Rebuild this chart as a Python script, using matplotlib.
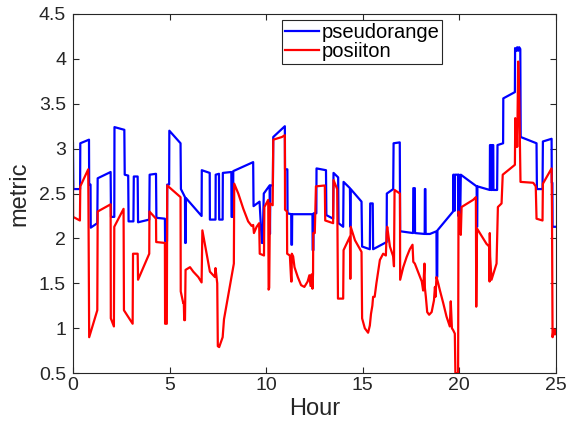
import matplotlib
matplotlib.use('Agg')
import matplotlib.pyplot as plt
from matplotlib.ticker import FormatStrFormatter

# (hour, metric) pairs
pseudorange = [
    (0.00,3.06),(0.02,2.55),(0.37,2.55),(0.38,3.06),(0.83,3.10),(0.84,2.60),(0.91,2.60),(0.92,2.12),
    (1.26,2.17),(1.28,2.67),(1.95,2.74),(1.97,2.24),(2.14,2.24),(2.15,3.24),(2.66,3.21),(2.68,2.71),
    (2.86,2.70),(2.88,2.19),(3.13,2.19),(3.15,2.69),(3.35,2.69),(3.37,2.18),
    (3.95,2.21),(3.97,2.71),(4.30,2.72),(4.32,2.23),(4.76,2.22),(4.77,1.97),(4.87,1.97),(4.88,2.60),
    (4.98,2.60),(4.99,3.20),(5.57,3.06),(5.59,2.55),(5.80,2.46),(5.81,1.95),(5.84,1.95),(5.85,2.45),
    (6.66,2.25),(6.67,2.76),(7.08,2.73),(7.09,2.21),
    (7.38,2.21),(7.39,2.71),(7.56,2.72),(7.57,2.21),(7.75,2.21),(7.76,2.73),(8.20,2.74),(8.21,2.24),
    (8.29,2.24),(8.30,2.75),(9.33,2.85),(9.35,2.36),(9.66,2.41),(9.78,1.95),(9.82,1.95),(9.88,2.50),
    (10.18,2.59),(10.20,2.05),(10.22,2.59),(10.35,2.59),(10.37,3.13),(10.97,3.25),(10.98,2.77),
    (11.10,2.77),(11.11,2.28),
    (11.30,2.27),(11.31,1.93),(11.34,1.93),(11.35,2.27),(12.40,2.27),(12.41,1.87),(12.45,1.87),
    (12.46,2.28),(12.60,2.28),(12.61,2.78),(13.10,2.76),(13.12,2.26),(13.47,2.22),(13.49,2.73),
    (13.73,2.68),(13.75,2.17),(13.99,2.13),(14.01,2.63),(14.34,2.56),(14.36,2.13),(14.38,2.55),
    (14.94,2.41),(14.97,1.91),(15.37,1.88),(15.39,2.39),(15.52,2.39),(15.54,1.88),(16.24,1.96),
    (16.25,2.50),(16.58,2.55),(16.60,3.06),(16.92,3.07),(16.94,2.08),(17.61,2.06),(17.62,2.56),
    (17.70,2.56),(17.71,2.06),(18.21,2.05),(18.22,2.55),(18.25,2.55),(18.26,2.05),(18.48,2.05),
    (18.82,2.08),(18.83,1.57),(18.86,1.57),(18.87,2.09),
    (19.68,2.30),(19.69,2.71),(19.72,2.71),(19.73,2.31),(19.77,2.31),(19.78,2.71),(19.94,2.71),
    (19.95,2.25),(19.98,2.71),(20.05,2.25),(20.08,2.71),(20.90,2.58),(20.91,2.13),(20.93,2.13),
    (20.94,2.58),(21.58,2.54),(21.59,3.04),(21.64,3.04),(21.65,2.54),(21.70,2.54),(21.71,3.04),
    (21.76,3.04),(21.77,2.54),(21.96,2.54),(21.98,3.04),(22.27,3.06),(22.28,3.56),(22.88,3.63),
    (22.89,4.12),(22.95,4.09),(23.00,4.13),(23.05,4.09),(23.10,4.13),(23.16,4.11),(23.18,3.13),
    (24.00,3.06),(24.02,2.55),(24.31,2.55),(24.33,3.08),(24.78,3.11),(24.79,2.62),(24.82,2.62),
    (24.83,2.13),(25.00,2.13),
]

posiiton = [
    (0.00,2.63),(0.01,2.24),(0.36,2.20),(0.38,2.58),(0.79,2.77),(0.80,2.45),(0.84,0.90),(1.26,1.20),
    (1.28,2.30),(1.95,2.38),(1.96,1.11),(2.12,1.02),(2.14,2.13),(2.62,2.33),(2.64,1.20),(3.09,1.05),
    (3.11,1.83),(3.35,1.83),(3.37,1.54),(3.95,1.83),(3.96,2.30),(4.30,2.22),(4.31,1.96),(4.76,1.95),
    (4.77,1.05),(4.86,1.05),(4.88,2.59),(5.57,2.46),(5.58,1.41),(5.71,1.28),(5.74,1.28),(5.76,1.09),
    (5.80,1.09),(5.83,1.65),(6.06,1.68),(6.23,1.63),(6.49,1.57),(6.66,1.51),(6.70,2.09),(7.09,1.63),
    (7.35,1.57),(7.38,1.67),(7.47,1.50),(7.50,0.80),(7.57,0.79),(7.75,0.90),(7.82,1.10),(8.33,1.72),
    (8.35,2.61),(8.56,2.50),(8.82,2.33),(9.07,2.19),(9.25,2.14),(9.33,2.15),(9.37,2.06),(9.51,2.13),
    (9.64,2.17),(9.67,1.83),(9.89,1.81),(9.91,2.35),(10.11,2.43),(10.13,1.43),(10.16,1.45),
    (10.20,2.39),(10.34,2.37),(10.37,3.10),(10.82,3.13),(10.97,3.15),(10.98,2.32),(11.08,2.30),
    (11.09,1.83),(11.23,1.81),(11.30,1.52),(11.32,1.52),(11.33,1.83),(11.40,1.80),(11.47,1.68),
    (11.64,1.57),(11.81,1.48),(11.98,1.46),(12.15,1.52),(12.24,1.59),(12.30,1.47),(12.36,1.60),
    (12.40,1.44),(12.43,1.61),(12.44,2.06),(12.52,2.06),(12.58,2.58),(13.04,2.59),(13.06,2.20),
    (13.47,2.17),(13.49,2.65),(13.68,2.55),(13.72,1.33),(13.99,1.33),(14.01,1.87),(14.34,2.02),
    (14.36,1.55),(14.38,2.13),(14.60,1.98),(14.94,1.85),(14.97,1.11),(15.11,1.00),(15.28,0.95),
    (15.37,1.03),(15.43,1.16),(15.50,1.25),(15.54,1.35),(15.62,1.35),(15.71,1.50),(15.89,1.76),
    (16.06,1.83),(16.20,1.81),(16.24,2.06),(16.27,2.13),(16.41,1.91),(16.58,1.80),(16.62,1.69),
    (16.65,2.54),(16.93,2.50),(16.94,1.54),(17.10,1.68),(17.27,1.79),(17.44,1.88),(17.58,1.93),
    (17.62,1.74),(17.70,1.72),(18.06,1.52),
    (18.13,1.42),(18.20,1.72),(18.22,1.45),(18.27,1.35),(18.34,1.18),(18.44,1.15),(18.57,1.18),
    (18.69,1.31),(18.74,1.46),(18.77,1.35),(18.82,1.57),(18.91,1.50),(19.00,1.42),(19.17,1.28),
    (19.34,1.13),(19.51,1.02),(19.56,1.30),(19.62,1.00),(19.68,0.98),(19.77,0.94),(19.80,0.50),
    (19.94,0.50),(19.96,2.30),(20.03,2.24),(20.08,2.04),(20.12,2.35),(20.72,2.43),(20.86,2.46),
    (20.88,1.24),(20.92,2.11),(21.41,1.94),(21.55,1.91),(21.57,1.52),(21.58,2.06),(21.60,1.80),
    (21.67,1.54),(21.93,1.72),(22.00,2.35),(22.19,2.39),(22.25,2.71),(22.88,2.82),(22.90,3.34),
    (22.93,3.02),(22.97,3.24),(23.00,3.02),(23.05,3.97),(23.10,3.65),(23.17,2.63),(23.83,2.62),
    (23.96,2.58),(24.00,2.22),(24.31,2.20),(24.33,2.61),(24.78,2.78),(24.80,2.32),(24.83,0.90),
    (24.88,0.99),(24.95,0.93),(25.00,0.98),
]

x_ticks = [0, 5, 10, 15, 20, 25]
y_ticks = [0.5, 1, 1.5, 2, 2.5, 3, 3.5, 4, 4.5]

plt.rcParams['font.family'] = ['Liberation Sans', 'DejaVu Sans']
dark = '#262626'

fig = plt.figure(figsize=(5.79, 4.24), dpi=100)
ax = fig.add_axes([0.126, 0.120, 0.834, 0.847])

h1, v1 = zip(*pseudorange)
h2, v2 = zip(*posiiton)
ax.plot(h1, v1, color='#0000ff', linewidth=1.6, label='pseudorange')
ax.plot(h2, v2, color='#ff0000', linewidth=1.6, label='posiiton')

ax.set_xlim(0, 25)
ax.set_ylim(0.5, 4.5)
ax.set_xticks(x_ticks)
ax.set_yticks(y_ticks)
ax.yaxis.set_major_formatter(FormatStrFormatter('%g'))
ax.tick_params(direction='in', top=True, right=True, length=4, width=0.8,
               labelsize=14, colors=dark)
ax.tick_params(axis='x', pad=3)
ax.tick_params(axis='y', pad=5)
for s in ax.spines.values():
    s.set_color(dark)
    s.set_linewidth(0.8)

ax.set_xlabel('Hour', fontsize=17, color=dark, labelpad=3)
ax.set_ylabel('metric', fontsize=17, color=dark, labelpad=6)

leg = ax.legend(loc='upper left', bbox_to_anchor=(0.433, 0.983), fontsize=14.5,
                handlelength=1.7, handletextpad=0.1, borderpad=0.15,
                labelspacing=0.0, borderaxespad=0, fancybox=False,
                framealpha=1, edgecolor=dark)
leg.get_frame().set_linewidth(0.8)

fig.savefig('out.png', dpi=100)
